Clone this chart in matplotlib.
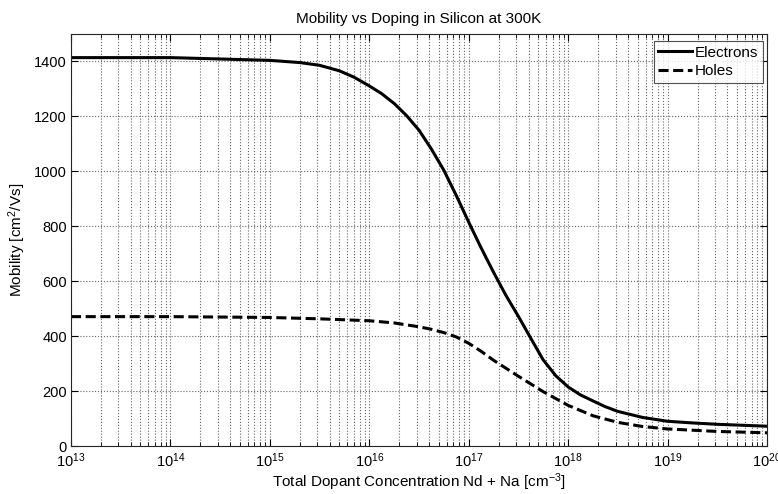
import matplotlib
matplotlib.use("Agg")
import matplotlib.pyplot as plt
from matplotlib.ticker import LogLocator, NullFormatter, FixedLocator

plt.rcParams['font.family'] = ['Liberation Sans', 'DejaVu Sans']
plt.rcParams['mathtext.fontset'] = 'custom'
plt.rcParams['mathtext.rm'] = 'Liberation Sans'
plt.rcParams['mathtext.it'] = 'Liberation Sans'
plt.rcParams['mathtext.default'] = 'regular'

# Data
electron_conc = [1e13, 1e14, 1e15, 2e15, 3.16e15, 5e15, 7e15, 1e16, 1.33e16, 1.78e16, 2.37e16,
                 3.16e16, 4.2e16, 5.6e16, 7.5e16, 1e17, 1.33e17, 1.78e17, 2.37e17,
                 3.16e17, 4.2e17, 5.6e17, 7.5e17, 1e18, 1.33e18, 1.78e18, 2.37e18,
                 3.16e18, 5.6e18, 1e19, 1.78e19, 3.16e19, 1e20]
electron_mob = [1414, 1414, 1404, 1396, 1386, 1366, 1343, 1311, 1283, 1247, 1203,
                1150, 1082, 1005, 912, 815, 722, 632, 548,
                472, 393, 314, 256, 215, 186, 164, 143,
                126, 104, 90, 84, 79, 72]

hole_conc = [1e13, 1e14, 1e15, 3.16e15, 1e16, 1.78e16, 3.16e16, 4.2e16, 5.6e16, 7.5e16,
             1e17, 1.33e17, 1.78e17, 3.16e17, 5.6e17, 1e18, 1.78e18, 3.16e18, 5.6e18,
             1e19, 3.16e19, 1e20]
hole_mob = [471, 471, 468, 463, 456, 448, 434, 425, 413, 397,
            374, 345, 312, 254, 198, 148, 110, 86, 71,
            62, 53, 48]

yticks = [0, 200, 400, 600, 800, 1000, 1200, 1400]
title = "Mobility vs Doping in Silicon at 300K"
xlabel = "Total Dopant Concentration Nd + Na [cm$^{-3}$]"
ylabel = "Mobility [cm$^{2}$/Vs]"

W, H = 778, 494
fig = plt.figure(figsize=(W / 100, H / 100), dpi=100)
ax = fig.add_axes([71 / W, 1 - 446 / H, (767 - 71) / W, (446 - 34) / H])

ax.semilogx(electron_conc, electron_mob, color='black', lw=2.2, label='Electrons',
            solid_joinstyle='round')
ax.semilogx(hole_conc, hole_mob, color='black', lw=2.2, ls=(0, (3.3, 1.5)), label='Holes')

ax.set_xlim(1e13, 1e20)
ax.set_ylim(0, 1500)
ax.yaxis.set_major_locator(FixedLocator(yticks))
ax.xaxis.set_major_locator(LogLocator(base=10, numticks=20))
ax.xaxis.set_minor_locator(LogLocator(base=10, subs=range(2, 10), numticks=100))
ax.xaxis.set_minor_formatter(NullFormatter())

ax.grid(True, which='major', axis='both', color='#666666', ls=':', lw=0.8)
ax.grid(True, which='minor', axis='x', color='#666666', ls=':', lw=0.8)

ax.tick_params(which='both', direction='in', top=True, right=True, labelsize=10.5)
ax.tick_params(which='major', length=5, width=0.8)
ax.tick_params(which='minor', length=3, width=0.6)
ax.tick_params(axis='x', which='major', pad=4)
ax.tick_params(axis='y', which='major', pad=3)
for s in ax.spines.values():
    s.set_color('#262626')
    s.set_linewidth(0.8)

ax.set_title(title, fontsize=11, pad=8)
ax.set_xlabel(xlabel, fontsize=11, labelpad=1)
ax.set_ylabel(ylabel, fontsize=11, labelpad=4)

leg = ax.legend(loc='upper right', fontsize=11, frameon=True, fancybox=False,
                edgecolor='#262626', handlelength=2.2, handletextpad=0.2,
                borderpad=0.3, labelspacing=0.3, borderaxespad=0,
                bbox_to_anchor=(763 / W, 1 - 41 / H), bbox_transform=fig.transFigure)
leg.get_frame().set_linewidth(0.8)

fig.savefig("out.png", dpi=100)
